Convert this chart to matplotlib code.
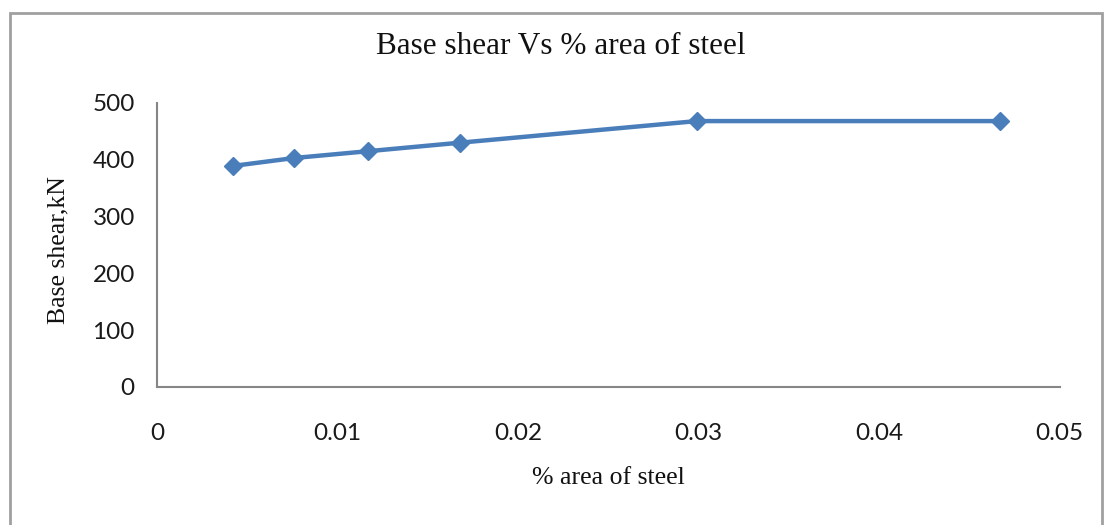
import matplotlib
matplotlib.use('Agg')
import matplotlib.pyplot as plt
from matplotlib.patches import Rectangle

# data
steel_area = [0.0042, 0.0076, 0.0117, 0.0168, 0.0299, 0.0467]
base_shear = [389, 403, 415, 430, 468, 468]
x_ticks = [0, 0.01, 0.02, 0.03, 0.04, 0.05]
x_tick_labels = ['0', '0.01', '0.02', '0.03', '0.04', '0.05']
y_ticks = [0, 100, 200, 300, 400, 500]

fig = plt.figure(figsize=(11.06, 5.25), dpi=100)

# chart area border
fig.patches.append(Rectangle((10 / 1106, -0.01), 1092 / 1106, 1 - 13 / 525 + 0.01,
                             transform=fig.transFigure, fill=False,
                             edgecolor='#a0a0a0', linewidth=2))

ax = fig.add_axes([0.142, 0.263, 0.816, 0.541])
ax.plot(steel_area, base_shear, color='#4a7ebb', linewidth=3.2,
        marker='D', markersize=9, markeredgecolor='#4a7ebb', clip_on=False)

ax.set_xlim(0, 0.05)
ax.set_ylim(0, 500)
ax.set_xticks(x_ticks)
ax.set_xticklabels(x_tick_labels)
ax.set_yticks(y_ticks)

for s in ['top', 'right']:
    ax.spines[s].set_visible(False)
for s in ['left', 'bottom']:
    ax.spines[s].set_color('#868686')
    ax.spines[s].set_linewidth(1.5)

ax.tick_params(axis='x', length=0, pad=26, labelsize=17.5, labelcolor='#1a1a1a')
ax.tick_params(axis='y', length=0, pad=16, labelsize=17.5, labelcolor='#1a1a1a')
for lab in ax.get_xticklabels() + ax.get_yticklabels():
    lab.set_family('Lato')

fig.text(0.507, 1 - 46 / 525, 'Base shear Vs % area of steel', ha='center', va='center',
         family='Liberation Serif', fontsize=22.5, color='#111111')
fig.text(0.55, 1 - 478 / 525, '% area of steel', ha='center', va='center',
         family='Liberation Serif', fontsize=18.5, color='#111111')
fig.text(58 / 1106, 1 - 250 / 525, 'Base shear,kN', ha='center', va='center', rotation=90,
         family='Liberation Serif', fontsize=18.5, color='#111111')

fig.savefig('out.png', dpi=100)
